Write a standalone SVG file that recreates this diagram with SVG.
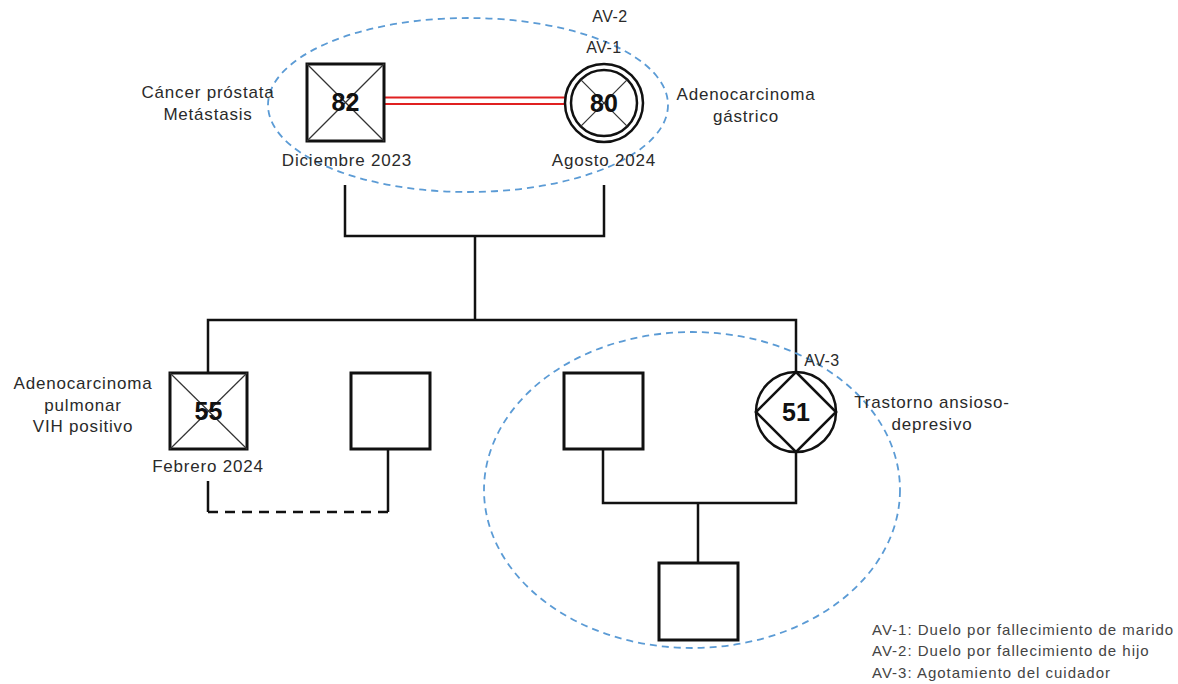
<svg xmlns="http://www.w3.org/2000/svg" width="1178" height="684" viewBox="0 0 1178 684">
  <style>
    text { font-family: "Liberation Sans", Arial, sans-serif; fill: #2a2a2a; }
    .lbl { font-size: 17px; letter-spacing: 0.8px; text-anchor: middle; }
    .av { font-size: 16px; letter-spacing: 0.5px; text-anchor: middle; }
    .num { font-size: 25px; font-weight: bold; text-anchor: middle; fill: #111; }
    .leg { font-size: 15px; letter-spacing: 1px; fill: #444; }
    .shape { fill: #fff; stroke: #111; stroke-width: 3; }
    .ring { fill: none; stroke: #111; stroke-width: 2.5; }
    .cross { stroke: #333; stroke-width: 1.2; }
    .link { fill: none; stroke: #111; stroke-width: 2.5; }
    .dash { fill: none; stroke: #111; stroke-width: 2.5; stroke-dasharray: 10 7; }
    .zone { fill: none; stroke: #5b9bd5; stroke-width: 1.8; stroke-dasharray: 7 5; }
  </style>

  <!-- family lines -->
  <g id="connectors">
    <!-- marriage bond of the parents (red double line) -->
    <line x1="384" y1="97.5" x2="566" y2="97.5" stroke="#e02020" stroke-width="2.2"/>
    <line x1="384" y1="104" x2="566" y2="104" stroke="#e02020" stroke-width="2.2"/>
    <!-- parents to sibship -->
    <polyline class="link" points="345,185 345,236 604,236 604,185"/>
    <line class="link" x1="475" y1="236" x2="475" y2="320"/>
    <polyline class="link" points="208,373 208,320 796,320 796,374"/>
    <!-- separated union of the son -->
    <line class="link" x1="208" y1="481" x2="208" y2="512"/>
    <line class="dash" x1="208" y1="512" x2="388" y2="512"/>
    <polyline class="link" points="388,512 388,449"/>
    <!-- union of the daughter and her child -->
    <polyline class="link" points="603,449 603,503 796,503 796,451"/>
    <line class="link" x1="698" y1="503" x2="698" y2="563"/>
  </g>

  <!-- household zones -->
  <g id="zones">
    <ellipse class="zone" cx="468" cy="105" rx="200" ry="87"/>
    <ellipse class="zone" cx="692" cy="490" rx="208" ry="158"/>
  </g>

  <!-- father, deceased -->
  <g id="father">
    <rect class="shape" x="307" y="64" width="77" height="77"/>
    <line class="cross" x1="307" y1="64" x2="384" y2="141"/>
    <line class="cross" x1="384" y1="64" x2="307" y2="141"/>
    <text class="num" x="345.5" y="111">82</text>
    <text class="lbl" x="208" y="98">Cáncer próstata</text>
    <text class="lbl" x="208" y="120">Metástasis</text>
    <text class="lbl" x="347" y="166">Diciembre 2023</text>
  </g>

  <!-- mother, deceased -->
  <g id="mother">
    <circle cx="604" cy="103" r="39" fill="#fff" stroke="#111" stroke-width="2.5"/>
    <circle class="ring" cx="604" cy="103" r="33"/>
    <line class="cross" x1="580.7" y1="79.7" x2="627.3" y2="126.3"/>
    <line class="cross" x1="627.3" y1="79.7" x2="580.7" y2="126.3"/>
    <text class="num" x="604" y="112">80</text>
    <text class="av" x="610" y="22">AV-2</text>
    <text class="av" x="604" y="53">AV-1</text>
    <text class="lbl" x="746" y="100">Adenocarcinoma</text>
    <text class="lbl" x="746" y="122">gástrico</text>
    <text class="lbl" x="604" y="166">Agosto 2024</text>
  </g>

  <!-- son, deceased -->
  <g id="son">
    <rect class="shape" x="170" y="373" width="77" height="76"/>
    <line class="cross" x1="170" y1="373" x2="247" y2="449"/>
    <line class="cross" x1="247" y1="373" x2="170" y2="449"/>
    <text class="num" x="208.5" y="420">55</text>
    <text class="lbl" x="83" y="389">Adenocarcinoma</text>
    <text class="lbl" x="83" y="411">pulmonar</text>
    <text class="lbl" x="83" y="432">VIH positivo</text>
    <text class="lbl" x="208" y="472">Febrero 2024</text>
  </g>

  <!-- son's former partner -->
  <g id="son-partner">
    <rect class="shape" x="351" y="373" width="79" height="76"/>
  </g>

  <!-- daughter's partner -->
  <g id="daughter-partner">
    <rect class="shape" x="564" y="373" width="79" height="76"/>
  </g>

  <!-- daughter, caregiver -->
  <g id="daughter">
    <circle cx="796" cy="412" r="40" fill="#fff" stroke="#111" stroke-width="2.5"/>
    <polygon points="796,372 836,412 796,452 756,412" fill="none" stroke="#111" stroke-width="2.5"/>
    <text class="num" x="796" y="421">51</text>
    <text class="av" x="822" y="366">AV-3</text>
    <text class="lbl" x="932" y="408">Trastorno ansioso-</text>
    <text class="lbl" x="932" y="430">depresivo</text>
  </g>

  <!-- grandchild -->
  <g id="grandchild">
    <rect class="shape" x="659" y="563" width="79" height="77"/>
  </g>

  <!-- legend -->
  <g id="legend">
    <text class="leg" x="872" y="635">AV-1: Duelo por fallecimiento de marido</text>
    <text class="leg" x="872" y="656">AV-2: Duelo por fallecimiento de hijo</text>
    <text class="leg" x="872" y="678">AV-3: Agotamiento del cuidador</text>
  </g>
</svg>
